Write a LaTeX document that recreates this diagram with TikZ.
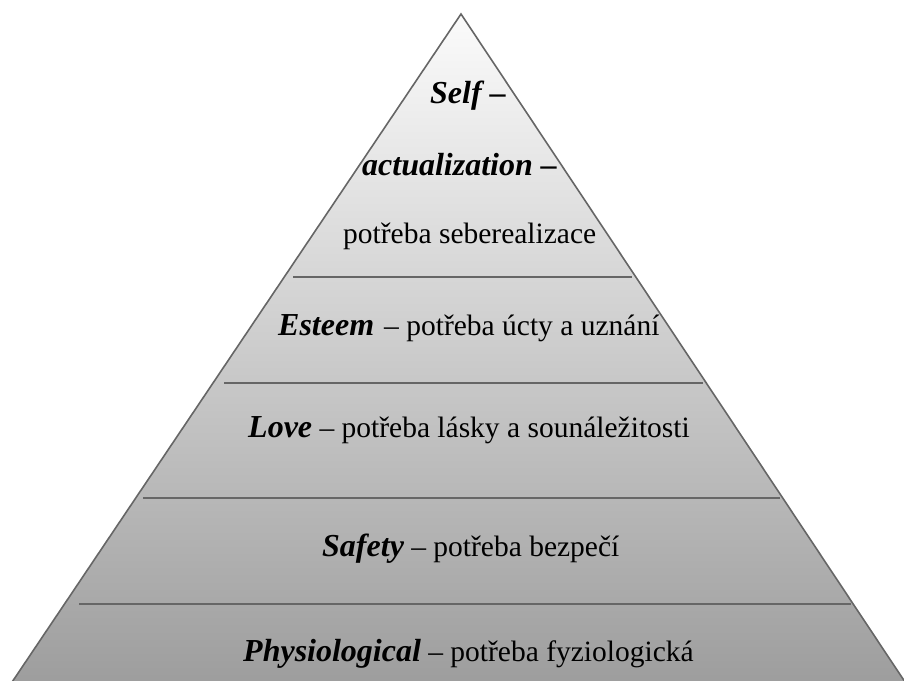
\documentclass[tikz,border=0pt]{standalone}
\usepackage{fontspec}
\setmainfont{Liberation Serif}
\definecolor{edge}{HTML}{666666}
\definecolor{topc}{HTML}{FBFBFB}
\definecolor{botc}{HTML}{9B9B9B}
\newcommand{\bi}[1]{{\fontsize{32}{36}\selectfont\bfseries\itshape #1}}
\begin{document}
\begin{tikzpicture}[x=1pt,y=-1pt,
  lvl/.style={anchor=base west,inner sep=0pt,font=\fontsize{29.5}{34}\selectfont},
  sep/.style={draw=edge,line width=2.2pt}]
\useasboundingbox (0,0) rectangle (904,680);
\clip (0,0) rectangle (904,680);
\coordinate (apex) at (461,14);
\coordinate (bl) at (0,700);
\coordinate (br) at (917,700);
\shade[top color=topc,bottom color=botc] (apex) -- (br) -- (bl) -- cycle;
\draw[edge,line width=1.6pt,line join=miter] (bl) -- (apex) -- (br);
\coordinate (a1) at (293,277); \coordinate (b1) at (632,277);
\coordinate (a2) at (224,383); \coordinate (b2) at (703,383);
\coordinate (a3) at (143,498); \coordinate (b3) at (780,498);
\coordinate (a4) at (79,604);  \coordinate (b4) at (851,604);
\draw[sep] (a1) -- (b1);
\draw[sep] (a2) -- (b2);
\draw[sep] (a3) -- (b3);
\draw[sep] (a4) -- (b4);
\node[lvl] (t1) at (430,103) {\bi{Self –}};
\node[lvl] (t2) at (362,175) {\bi{actualization –}};
\node[lvl] (t3) at (343,243) {potřeba seberealizace};
\node[lvl] (t4) at (278,335) {\bi{Esteem}\hspace{10pt}– potřeba úcty a uznání};
\node[lvl] (t5) at (248,437) {\bi{Love} – potřeba lásky a sounáležitosti};
\node[lvl] (t6) at (322,556) {\bi{Safety} – potřeba bezpečí};
\node[lvl] (t7) at (243,661) {\bi{Physiological} – potřeba fyziologická};
\end{tikzpicture}
\end{document}
